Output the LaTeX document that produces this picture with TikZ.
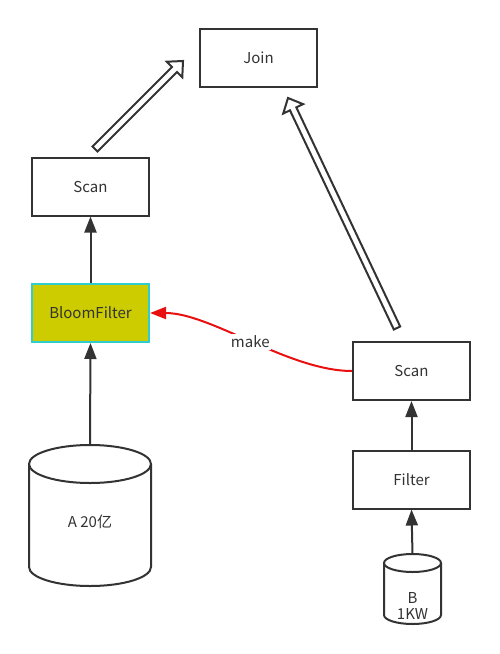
\documentclass[tikz,border=0pt]{standalone}
\usepackage{fontspec}
\setmainfont{Noto Sans CJK SC}
\usetikzlibrary{arrows.meta,calc}
\definecolor{ink}{HTML}{333333}
\definecolor{bfill}{HTML}{CCCC00}
\definecolor{bline}{HTML}{33CCCC}
\definecolor{mred}{HTML}{E81010}
\tikzset{
  box/.style={draw=ink,line width=2pt,minimum width=117pt,minimum height=58pt,inner sep=0pt,text=ink,font=\fontsize{15}{18}\selectfont},
  solidarr/.style={draw=ink,line width=2pt,-{Triangle[length=16pt,width=12pt]}},
  redarr/.style={draw=mred,line width=2pt,-{Triangle[length=16pt,width=12pt]}},
  hollow/.style={draw=ink,line width=2pt,fill=white,line join=miter},
  cyl/.style={draw=ink,line width=2pt,fill=white},
  lab/.style={text=ink,font=\fontsize{15}{16}\selectfont,inner sep=0pt,align=center}
}
\newcommand\hollowarr[2]{%
  \coordinate (#1h) at ($(#2)!12pt!(#1)$);
  \draw[hollow] ($(#1)!3.5pt!90:(#2)$) -- ($(#1h)!3.5pt!90:(#2)$) -- ($(#1h)!11pt!90:(#2)$) -- (#2)
    -- ($(#1h)!11pt!-90:(#2)$) -- ($(#1h)!3.5pt!-90:(#2)$) -- ($(#1)!3.5pt!-90:(#2)$) -- cycle;}
\begin{document}
\begin{tikzpicture}[x=1pt,y=-1pt]
\useasboundingbox (0,0) rectangle (500,654);
% boxes
\node[box] (join) at (258.5,58) {Join};
\node[box] (scanL) at (90.5,186.5) {Scan};
\node[box,fill=bfill,draw=bline] (bf) at (90.5,313) {BloomFilter};
\node[box] (scanR) at (411.5,371) {Scan};
\node[box] (filt) at (411.5,479.5) {Filter};
% cylinder A
\draw[cyl] (29,464) -- (29,567) arc[start angle=180,end angle=0,x radius=61,y radius=19] -- (151,464);
\draw[cyl] (90,464) ellipse [x radius=61, y radius=19];
\node[minimum width=122pt,minimum height=141pt,inner sep=0pt] (cylA) at (90,515.5) {};
\node[lab] (labA) at (90,522) {A 20亿};
% cylinder B
\draw[cyl] (384,563) -- (384,615) arc[start angle=180,end angle=0,x radius=28.5,y radius=9] -- (441,563);
\draw[cyl] (412.5,563) ellipse [x radius=28.5, y radius=9];
\node[minimum width=57pt,minimum height=70pt,inner sep=0pt] (cylB) at (412.5,589) {};
\node[lab] (labB) at (412.5,606) {B\\1KW};
% solid arrows
\draw[solidarr] (bf.north) -- (scanL.south);
\draw[solidarr] (cylA.north) -- (bf.south);
\draw[solidarr] (filt.north) -- (scanR.south);
\draw[solidarr] (cylB.north) -- (filt.south);
% red make arrow
\draw[redarr] (scanR.west) .. controls +(-63,0) and +(61,0) .. node[fill=white,text=ink,inner sep=1.5pt,font=\fontsize{15}{18}\selectfont] (make) {make} (bf.east);
% hollow arrows
\coordinate (t1) at (95,149);
\coordinate (p1) at (183,61);
\coordinate (t2) at (397,328);
\coordinate (p2) at (288,98);
\hollowarr{t1}{p1}
\hollowarr{t2}{p2}
\end{tikzpicture}
\end{document}
